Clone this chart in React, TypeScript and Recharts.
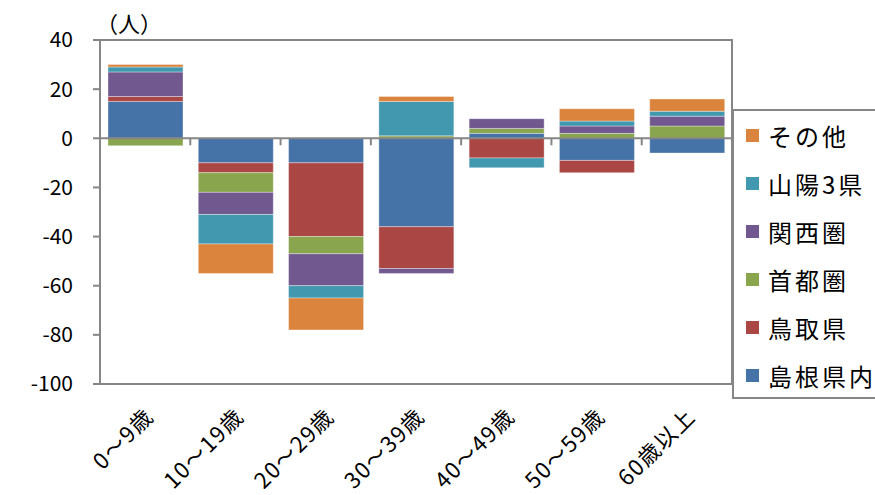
import { BarChart, Bar, XAxis, YAxis, Legend, ReferenceLine, ReferenceArea } from 'recharts';

// 年齢階級
const categories = ['0～9歳', '10～19歳', '20～29歳', '30～39歳', '40～49歳', '50～59歳', '60歳以上'];

// 転入超過数（人）
const shimane = [15, -10, -10, -36, 2, -9, -6];
const tottori = [2, -4, -30, -17, -8, -5, 0];
const shuto = [-3, -8, -7, 1, 2, 2, 5];
const kansai = [10, -9, -13, -2, 4, 3, 4];
const sanyo = [2, -12, -5, 14, -4, 2, 2];
const other = [1, -12, -13, 2, 0, 5, 5];

const yTicks = [40, 20, 0, -20, -40, -60, -80, -100];

const series = [
  { key: 'shimane', name: '島根県内', color: '#4572A7', values: shimane },
  { key: 'tottori', name: '鳥取県', color: '#AA4643', values: tottori },
  { key: 'shuto', name: '首都圏', color: '#89A54E', values: shuto },
  { key: 'kansai', name: '関西圏', color: '#71588F', values: kansai },
  { key: 'sanyo', name: '山陽3県', color: '#4198AF', values: sanyo },
  { key: 'other', name: 'その他', color: '#DB843D', values: other },
];

const data = categories.map((name, i) => {
  const row: Record<string, string | number> = { name };
  series.forEach((s) => {
    row[s.key] = s.values[i];
  });
  return row;
});

const AXIS = '#868686';
const FONT = '"Noto Sans CJK JP", "Noto Sans", sans-serif';

function XTick(props: any) {
  const { x, y, payload } = props;
  const tx = x + 10;
  const ty = y + 34;
  return (
    <text
      x={tx}
      y={ty}
      transform={`rotate(-45, ${tx}, ${ty})`}
      textAnchor="end"
      fontSize={22}
      letterSpacing={1.5}
      fill="#000"
      fontFamily={FONT}
    >
      {payload.value}
    </text>
  );
}

// ゼロ線と区切り目盛り
function ZeroLine(props: any) {
  const { x1, y1, x2, y2 } = props;
  const step = (x2 - x1) / categories.length;
  return (
    <g>
      <line x1={x1} y1={y1} x2={x2} y2={y2} stroke={AXIS} strokeWidth={2} />
      {categories.slice(1).map((_, i) => (
        <line
          key={i}
          x1={x1 + step * (i + 1)}
          x2={x1 + step * (i + 1)}
          y1={y1}
          y2={y1 + 7}
          stroke={AXIS}
          strokeWidth={2}
        />
      ))}
    </g>
  );
}

// 凡例は系列の逆順（その他が上）
function renderLegend() {
  const items = [...series].reverse();
  return (
    <div
      style={{
        border: `2px solid ${AXIS}`,
        width: 170,
        height: 290,
        boxSizing: 'border-box',
        background: '#fff',
        fontFamily: FONT,
      }}
    >
      {items.map((it) => (
        <div
          key={it.key}
          style={{ height: 48, display: 'flex', alignItems: 'center', paddingLeft: 12 }}
        >
          <span style={{ width: 13, height: 13, background: it.color, display: 'inline-block' }} />
          <span style={{ marginLeft: 9, fontSize: 24, color: '#000', letterSpacing: 3 }}>{it.name}</span>
        </div>
      ))}
    </div>
  );
}

export default function App() {
  return (
    <div
      style={{
        position: 'absolute',
        left: 0,
        top: 0,
        width: 875,
        height: 495,
        overflow: 'hidden',
        background: '#fff',
        fontFamily: FONT,
      }}
    >
      <div style={{ position: 'absolute', left: 96, top: 6, fontSize: 22, color: '#000', zIndex: 2 }}>（人）</div>
      <BarChart
        width={875}
        height={495}
        data={data}
        stackOffset="sign"
        margin={{ top: 40, right: 143, bottom: 0, left: 0 }}
      >
        <ReferenceArea y1={-100} y2={40} fill="none" stroke={AXIS} strokeWidth={2} ifOverflow="visible" />
        <XAxis
          dataKey="name"
          axisLine={false}
          tickLine={false}
          tickSize={0}
          tickMargin={0}
          height={111}
          interval={0}
          tick={<XTick />}
        />
        <YAxis
          type="number"
          domain={[-100, 40]}
          ticks={yTicks}
          interval={0}
          width={100}
          axisLine={{ stroke: AXIS, strokeWidth: 2 }}
          tickLine={{ stroke: AXIS, strokeWidth: 2 }}
          tickSize={7}
          tickMargin={20}
          tick={{ fontSize: 21, fill: '#000', fontFamily: FONT }}
        />
        {series.map((s) => (
          <Bar
            key={s.key}
            dataKey={s.key}
            name={s.name}
            stackId="a"
            fill={s.color}
            stroke="#ffffff"
            strokeOpacity={0.35}
            strokeWidth={1}
            barSize={75}
            isAnimationActive={false}
          />
        ))}
        <ReferenceLine y={0} shape={<ZeroLine />} />
        <Legend
          layout="vertical"
          verticalAlign="middle"
          align="center"
          content={renderLegend}
          wrapperStyle={{ left: 732, top: 109, width: 170, height: 290 }}
        />
      </BarChart>
    </div>
  );
}
